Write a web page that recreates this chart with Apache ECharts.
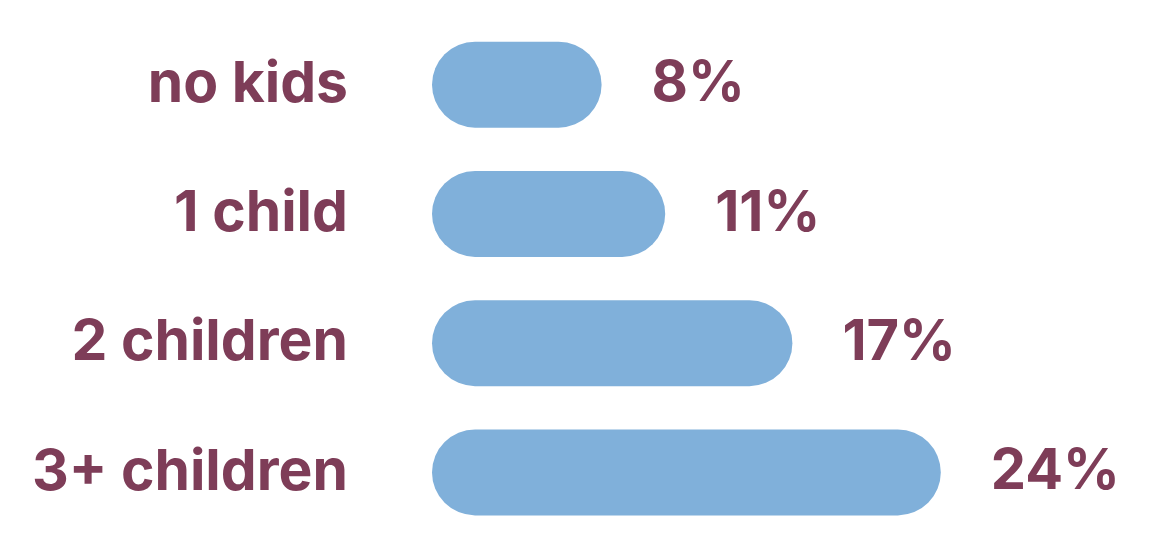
<!DOCTYPE html>
<html lang="en">

<head>
  <meta charset="UTF-8">
  <script src="https://cdn.jsdelivr.net/npm/echarts@6/dist/echarts.min.js"></script>
  <title>Kids</title>
  <style>
    html, body { margin: 0; padding: 0; background: #fff; }
    #main { width: 1171px; height: 551px; }
  </style>
</head>

<body>
  <div id="main"></div>

  <script>
    // data
    let categories = ['no kids', '1 child', '2 children', '3+ children']
    let shares = [8, 11, 17, 24]

    let maroon = '#7e3d58'
    let blue = '#80b0da'

    let chart = echarts.init(document.getElementById('main'))

    let option = {
      animation: false,
      grid: { left: 432, right: 103, top: 20, height: 517 },
      xAxis: {
        type: 'value',
        min: 0,
        max: 30,
        show: false
      },
      yAxis: {
        type: 'category',
        inverse: true,
        data: categories,
        axisLine: { show: false },
        axisTick: { show: false },
        axisLabel: {
          margin: 84,
          color: maroon,
          fontFamily: 'Inter',
          fontWeight: 700,
          fontSize: 57
        }
      },
      series: [{
        type: 'bar',
        data: shares,
        barWidth: 86,
        itemStyle: { color: blue, borderRadius: 43 },
        label: {
          show: true,
          position: 'right',
          distance: 50,
          formatter: p => p.value + '%',
          color: maroon,
          fontFamily: 'Inter',
          fontWeight: 700,
          fontSize: 56
        }
      }]
    }

    chart.setOption(option)
  </script>
</body>

</html>
